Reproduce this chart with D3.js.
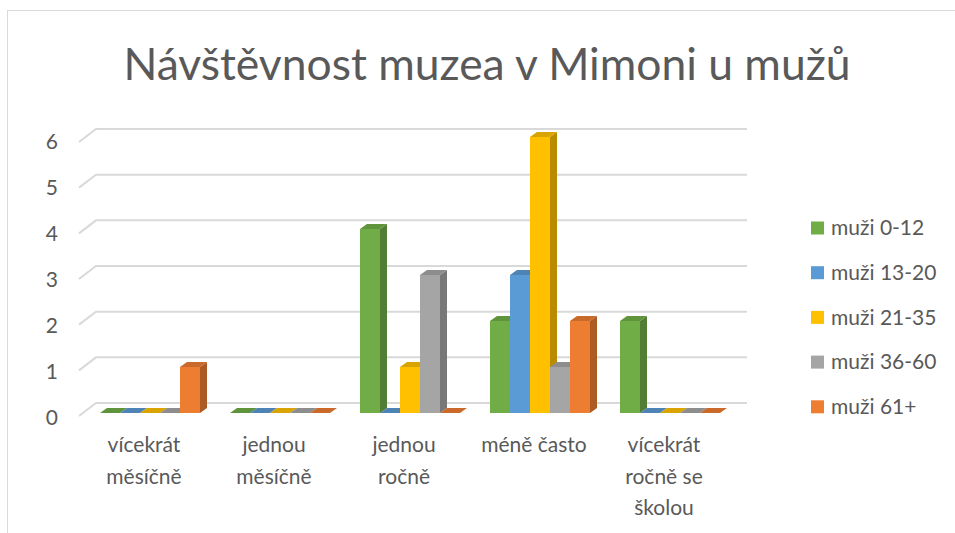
<!DOCTYPE html>
<html>
<head>
<meta charset="utf-8">
<script src="https://cdn.jsdelivr.net/npm/d3@7"></script>
<style>
  html, body { margin: 0; padding: 0; background: #ffffff; }
  svg { display: block; }
  text { font-family: Lato, "Open Sans", sans-serif; fill: #595959; }
</style>
</head>
<body>
<svg id="chart" width="955" height="533"></svg>
<script>
// ---- data ----
const title = "Návštěvnost muzea v Mimoni u mužů";
const categories = ["vícekrát měsíčně", "jednou měsíčně", "jednou ročně", "méně často", "vícekrát ročně se školou"];
const categoryLines = [["vícekrát", "měsíčně"], ["jednou", "měsíčně"], ["jednou", "ročně"], ["méně často"], ["vícekrát", "ročně se", "školou"]];
const seriesNames = ["muži 0-12", "muži 13-20", "muži 21-35", "muži 36-60", "muži 61+"];
const seriesColors = ["#70ad47", "#5b9bd5", "#ffc000", "#a5a5a5", "#ed7d31"];
const muzi0_12 = [0, 0, 4, 2, 2];
const muzi13_20 = [0, 0, 0, 3, 0];
const muzi21_35 = [0, 0, 1, 6, 0];
const muzi36_60 = [0, 0, 3, 1, 0];
const muzi61 = [1, 0, 0, 2, 0];
const seriesValues = [muzi0_12, muzi13_20, muzi21_35, muzi36_60, muzi61];
const yTicks = [0, 1, 2, 3, 4, 5, 6];

// ---- layout ----
const svg = d3.select("#chart");
const depthX = 7, depthY = 5;

const x = d3.scaleBand().domain(categories).range([85, 735]).paddingInner(30 / 130).paddingOuter(15 / 130);
const xs = d3.scaleBand().domain(seriesNames).range([0, x.bandwidth()]);
const y = d3.scaleLinear().domain([0, 6]).range([413, 137]);      // front plane of bars
const yBack = d3.scaleLinear().domain([0, 6]).range([403, 129]);  // back wall

// chart border
svg.append("rect").attr("x", 7.5).attr("y", 10.5).attr("width", 960).attr("height", 540)
  .attr("fill", "none").attr("stroke", "#d9d9d9").attr("stroke-width", 1);

// title
svg.append("text").attr("x", 487).attr("y", 80).attr("text-anchor", "middle")
  .style("font-size", "45px").style("font-weight", 400).attr("textLength", 727)
  .attr("lengthAdjust", "spacingAndGlyphs").text(title);

// gridlines (back wall + left side wall)
const grid = svg.append("g");
yTicks.forEach(v => {
  const yb = yBack(v);
  grid.append("path")
    .attr("d", `M79,${yb + 13}L96,${yb}L747,${yb}`)
    .attr("fill", "none").attr("stroke", "#d9d9d9").attr("stroke-width", 2);
});

// y tick labels
svg.append("g").selectAll("text").data(yTicks).join("text")
  .attr("x", 58).attr("y", d => y(d) + 5).attr("dy", "0.35em")
  .attr("text-anchor", "end").style("font-size", "21px").text(d => d);

// bars
const bars = svg.append("g");
categories.forEach((cat, ci) => {
  seriesNames.forEach((s, si) => {
    const v = seriesValues[si][ci];
    const col = d3.color(seriesColors[si]);
    const x0 = x(cat) + xs(s), w = xs.bandwidth();
    const yt = y(v), yb = y(0);
    const g = bars.append("g");
    // side face
    g.append("path")
      .attr("d", `M${x0 + w},${yt}L${x0 + w + depthX},${yt - depthY}L${x0 + w + depthX},${yb - depthY}L${x0 + w},${yb}Z`)
      .attr("fill", col.darker(0.9));
    // front face
    g.append("rect").attr("x", x0).attr("y", yt).attr("width", w).attr("height", yb - yt)
      .attr("fill", col);
    // top face
    g.append("path")
      .attr("d", `M${x0},${yt}L${x0 + depthX},${yt - depthY}L${x0 + w + depthX},${yt - depthY}L${x0 + w},${yt}Z`)
      .attr("fill", col.darker(0.45));
  });
});

// category labels
const cl = svg.append("g");
categories.forEach((cat, ci) => {
  const t = cl.append("text").attr("text-anchor", "middle").style("font-size", "21px");
  categoryLines[ci].forEach((line, li) => {
    t.append("tspan").attr("x", x(cat) + x.bandwidth() / 2 - 6).attr("y", 452 + li * 31.5).text(line);
  });
});

// legend
const leg = svg.append("g");
seriesNames.forEach((s, si) => {
  const ly = 228 + si * 44.7;
  leg.append("rect").attr("x", 811).attr("y", ly - 6.5).attr("width", 13).attr("height", 13)
    .attr("fill", seriesColors[si]);
  leg.append("text").attr("x", 831).attr("y", ly).attr("dy", "0.35em")
    .style("font-size", "21px").text(s);
});
</script>
</body>
</html>
